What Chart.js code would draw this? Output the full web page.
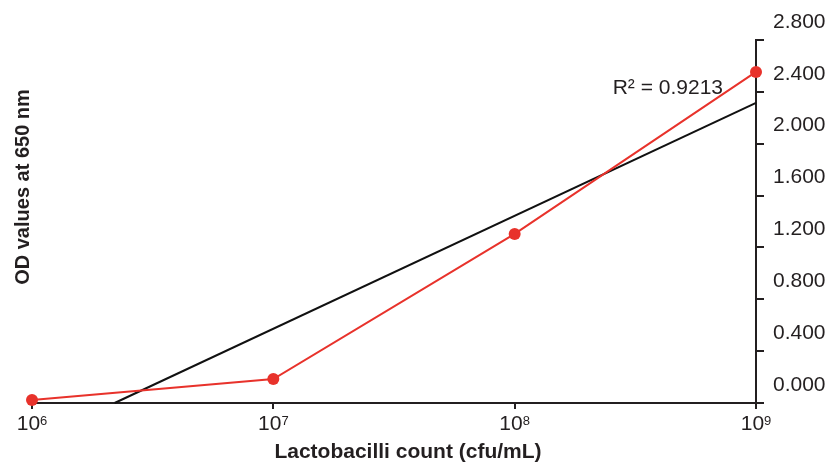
<!DOCTYPE html>
<html>
<head>
<meta charset="utf-8">
<script src="https://cdn.jsdelivr.net/npm/chart.js@4"></script>
<style>
  body { margin: 0; background: #fff; }
  canvas { display: block; }
</style>
</head>
<body>
<canvas id="chart" width="830" height="462"></canvas>
<script>
const FONT = "'Liberation Sans', Arial, sans-serif";
const INK = '#231f20';

// x: lactobacilli count, log scale
const X_TICKS = [1e6, 1e7, 1e8, 1e9];
const X_EXPONENTS = ['6', '7', '8', '9'];

// y: label values and the (offset) tick mark positions on the right axis
const Y_MIN = -0.139;
const Y_MAX = 2.661;
const Y_LABELS = [0, 0.4, 0.8, 1.2, 1.6, 2.0, 2.4, 2.8];
const Y_MARKS = [-0.139, 0.261, 0.661, 1.061, 1.461, 1.861, 2.261, 2.661];

// measured OD values
const COUNTS = [1e6, 1e7, 1e8, 1e9];
const OD_VALUES = [-0.116, 0.046, 1.165, 2.415];

// linear trend line ends
const FIT_COUNTS = [2.2e6, 1e9];
const FIT_VALUES = [-0.139, 2.176];

const R2_TEXT = 'R\u00b2 = 0.9213';
const X_TITLE = 'Lactobacilli count (cfu/mL)';
const Y_TITLE = 'OD values at 650 nm';

const odPoints = COUNTS.map((x, i) => ({ x, y: OD_VALUES[i] }));
const fitPoints = FIT_COUNTS.map((x, i) => ({ x, y: FIT_VALUES[i] }));

const extraText = {
  id: 'extraText',
  afterDraw(chart) {
    const { ctx } = chart;
    const xScale = chart.scales.x;
    const bottom = chart.chartArea.bottom;
    ctx.save();
    ctx.fillStyle = INK;
    ctx.textBaseline = 'alphabetic';

    // x tick labels with superscript exponents
    X_TICKS.forEach((v, i) => {
      const px = xScale.getPixelForValue(v);
      ctx.font = `21px ${FONT}`;
      const baseW = ctx.measureText('10').width;
      ctx.font = `13px ${FONT}`;
      const supW = ctx.measureText(X_EXPONENTS[i]).width;
      const left = px - (baseW + supW) / 2;
      ctx.textAlign = 'left';
      ctx.font = `21px ${FONT}`;
      ctx.fillText('10', left, bottom + 27);
      ctx.font = `13px ${FONT}`;
      ctx.fillText(X_EXPONENTS[i], left + baseW, bottom + 22);
    });

    // x axis title
    ctx.font = `bold 21px ${FONT}`;
    ctx.textAlign = 'center';
    ctx.fillText(X_TITLE, 408, 458);

    // R squared note
    ctx.font = `21px ${FONT}`;
    ctx.textAlign = 'right';
    ctx.textBaseline = 'middle';
    ctx.fillText(R2_TEXT, 723, 88);

    // y axis title
    ctx.font = `bold 20px ${FONT}`;
    ctx.textAlign = 'center';
    ctx.textBaseline = 'middle';
    ctx.translate(23, 187);
    ctx.rotate(-Math.PI / 2);
    ctx.fillText(Y_TITLE, 0, 0);
    ctx.restore();
  },
};

new Chart(document.getElementById('chart'), {
  type: 'line',
  data: {
    datasets: [
      {
        data: odPoints,
        xAxisID: 'x',
        yAxisID: 'y',
        borderColor: '#e8322b',
        backgroundColor: '#e8322b',
        borderWidth: 2,
        pointRadius: 6,
        pointBorderWidth: 0,
        pointBackgroundColor: '#e8322b',
        clip: false,
      },
      {
        data: fitPoints,
        xAxisID: 'x',
        yAxisID: 'y',
        borderColor: '#111111',
        borderWidth: 2,
        pointRadius: 0,
        clip: false,
      },
    ],
  },
  options: {
    responsive: false,
    animation: false,
    layout: { padding: { left: 32, top: 40, right: 0, bottom: 0 } },
    plugins: { legend: { display: false }, tooltip: { enabled: false } },
    scales: {
      x: {
        type: 'logarithmic',
        position: 'bottom',
        min: 1e6,
        max: 1e9,
        afterBuildTicks: (s) => { s.ticks = X_TICKS.map((value) => ({ value })); },
        afterFit: (s) => { s.height = 59; },
        ticks: { display: false },
        grid: { drawOnChartArea: false, tickLength: 6, color: INK, lineWidth: 2 },
        border: { display: true, color: INK, width: 2 },
      },
      yMarks: {
        type: 'linear',
        position: 'right',
        weight: 0,
        min: Y_MIN,
        max: Y_MAX,
        afterBuildTicks: (s) => { s.ticks = Y_MARKS.map((value) => ({ value })); },
        afterFit: (s) => { s.width = 8; },
        ticks: { display: false },
        grid: { drawOnChartArea: false, tickLength: 8, color: INK, lineWidth: 2 },
        border: { display: true, color: INK, width: 2 },
      },
      y: {
        type: 'linear',
        position: 'right',
        weight: 1,
        min: Y_MIN,
        max: Y_MAX,
        afterBuildTicks: (s) => { s.ticks = Y_LABELS.map((value) => ({ value })); },
        afterFit: (s) => { s.width = 66; },
        ticks: {
          color: INK,
          padding: 9,
          font: { family: FONT, size: 21 },
          callback: (v) => Number(v).toFixed(3),
        },
        grid: { display: false, drawTicks: false },
        border: { display: false },
      },
    },
  },
  plugins: [extraText],
});
</script>
</body>
</html>
